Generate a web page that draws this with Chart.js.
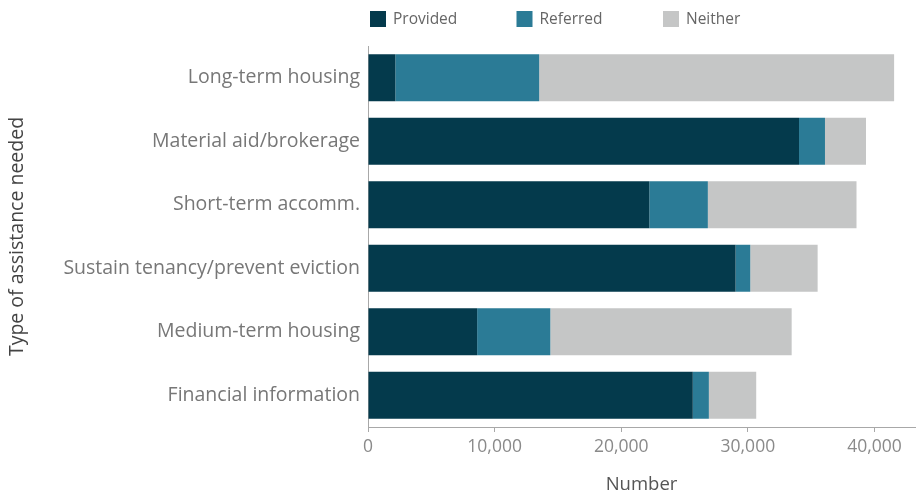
<!DOCTYPE html>
<html>
<head>
<meta charset="utf-8">
<script src="https://cdn.jsdelivr.net/npm/chart.js@4"></script>
<style>
  html, body { margin: 0; padding: 0; background: #fff; }
  #wrap { width: 916px; height: 497px; }
</style>
</head>
<body>
<div id="wrap"><canvas id="myPlot"></canvas></div>
<script>
const categories = [
    'Long-term housing',
    'Material aid/brokerage',
    'Short-term accomm.',
    'Sustain tenancy/prevent eviction',
    'Medium-term housing',
    'Financial information'
];
const provided = [2160, 34040, 22220, 29030, 8620, 25650];
const referred = [11360, 2050, 4620, 1160, 5780, 1270];
const neither = [28030, 3240, 11740, 5320, 19060, 3740];
const xTicks = [0, 10000, 20000, 30000, 40000];

const FONT = "'Open Sans', 'Noto Sans', sans-serif";

// legend drawn above the plot, starting at the y axis
const topLegend = {
    id: 'topLegend',
    afterDraw(chart) {
        const ctx = chart.ctx;
        const left = chart.chartArea.left + 2;
        ctx.save();
        ctx.font = '15.5px ' + FONT;
        ctx.textBaseline = 'middle';
        chart.data.datasets.forEach((ds, i) => {
            const x = left + i * 146.5;
            ctx.fillStyle = ds.backgroundColor;
            ctx.fillRect(x, 11, 16, 16);
            ctx.fillStyle = '#666';
            ctx.fillText(ds.label, x + 23, 19.5);
        });
        ctx.restore();
    }
};

new Chart(document.getElementById('myPlot'), {
    type: 'bar',
    data: {
        labels: categories,
        datasets: [{
            label: 'Provided',
            data: provided,
            backgroundColor: '#043a4c'
        }, {
            label: 'Referred',
            data: referred,
            backgroundColor: '#2b7b96'
        }, {
            label: 'Neither',
            data: neither,
            backgroundColor: '#c5c6c6'
        }]
    },
    options: {
        indexAxis: 'y',
        animation: false,
        responsive: true,
        maintainAspectRatio: false,
        barPercentage: 0.74,
        categoryPercentage: 1,
        layout: {
            padding: { top: 46, right: 1, left: 0, bottom: 0 }
        },
        plugins: {
            legend: { display: false },
            tooltip: { enabled: false }
        },
        scales: {
            x: {
                stacked: true,
                min: 0,
                max: 43200,
                afterBuildTicks: (scale) => {
                    scale.ticks = xTicks.map(v => ({ value: v }));
                },
                afterFit: (scale) => { scale.height = 70; },
                border: { display: true, color: '#a8a8a8' },
                grid: {
                    display: true,
                    drawOnChartArea: false,
                    drawTicks: true,
                    tickLength: 5,
                    color: '#a8a8a8'
                },
                ticks: {
                    padding: 5,
                    color: '#8a8a8a',
                    font: { family: FONT, size: 17.5 },
                    callback: (v) => v.toLocaleString('en-US')
                },
                title: {
                    display: true,
                    text: 'Number',
                    color: '#555',
                    padding: { top: 4, bottom: 1 },
                    font: { family: FONT, size: 18.5 }
                }
            },
            y: {
                stacked: true,
                afterFit: (scale) => { scale.width = 368; },
                border: { display: true, color: '#a8a8a8' },
                grid: { display: false },
                ticks: {
                    padding: 0,
                    color: '#777',
                    font: { family: FONT, size: 19.5 }
                },
                title: {
                    display: true,
                    text: 'Type of assistance needed',
                    color: '#444',
                    padding: { top: 6, bottom: 0 },
                    font: { family: FONT, size: 19.5 }
                }
            }
        }
    },
    plugins: [topLegend]
});
</script>
</body>
</html>
